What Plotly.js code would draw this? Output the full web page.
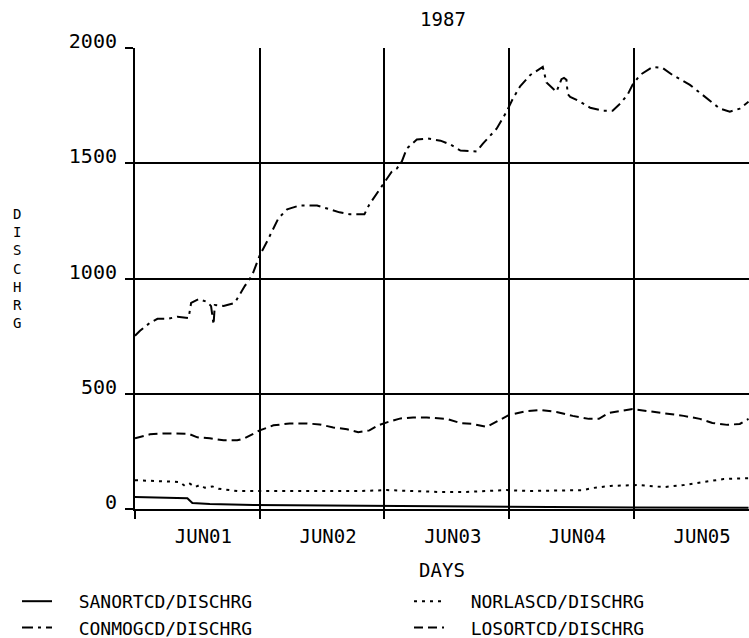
<!DOCTYPE html>
<html>
<head>
<meta charset="utf-8">
<script src="https://cdn.plot.ly/plotly-3.0.1.min.js"></script>
<style>html,body{margin:0;padding:0;background:#fff;}#chart{width:749px;height:638px;}</style>
</head>
<body>
<div id="chart"></div>
<script>
// ---- data (x in days since JUN01 00:00) ----
const dayLabels = ['JUN01', 'JUN02', 'JUN03', 'JUN04', 'JUN05'];
const labelDays = [0.5, 1.5, 2.5, 3.5, 4.5];
const dayStarts = [0, 1, 2, 3, 4];
const yTicks = [0, 500, 1000, 1500, 2000];
const chartTitle = '1987';
const xTitle = 'DAYS';
const yTitle = 'DISCHRG';
const seriesNames = ['SANORTCD/DISCHRG', 'NORLASCD/DISCHRG', 'CONMOGCD/DISCHRG', 'LOSORTCD/DISCHRG'];

const sanDays = [0.00, 0.20, 0.42, 0.46, 0.60, 0.95, 1.50, 2.00, 3.00, 4.00, 4.92];
const sanValues = [52, 50, 47, 26, 22, 17, 15, 12, 9, 6, 5];

const norDays = [0.00, 0.20, 0.36, 0.40, 0.44, 0.48, 0.52, 0.56, 0.62, 0.67, 0.82, 1.00, 1.22, 1.50, 1.80, 2.02, 2.30, 2.43, 2.65, 2.98, 3.16, 3.59, 3.67, 3.81, 4.03, 4.24, 4.40, 4.56, 4.72, 4.92];
const norValues = [125, 121, 117, 100, 110, 95, 104, 92, 98, 88, 78, 78, 78, 76, 78, 82, 76, 74, 74, 82, 78, 82, 91, 100, 104, 95, 104, 117, 130, 134];

const conDays = [0.00, 0.04, 0.12, 0.18, 0.26, 0.34, 0.43, 0.45, 0.51, 0.58, 0.61, 0.63, 0.64, 0.71, 0.80, 0.88, 0.94, 1.00, 1.06, 1.11, 1.15, 1.22, 1.32, 1.46, 1.56, 1.64, 1.72, 1.84, 1.88, 1.94, 2.00, 2.06, 2.10, 2.14, 2.18, 2.26, 2.35, 2.45, 2.53, 2.61, 2.74, 2.79, 2.90, 2.98, 3.03, 3.09, 3.17, 3.27, 3.30, 3.35, 3.38, 3.42, 3.44, 3.46, 3.47, 3.49, 3.57, 3.65, 3.75, 3.83, 3.89, 3.95, 3.99, 4.05, 4.15, 4.23, 4.31, 4.45, 4.59, 4.69, 4.77, 4.85, 4.92];
const conValues = [752, 773, 808, 825, 825, 834, 828, 894, 911, 898, 880, 800, 885, 881, 894, 967, 1015, 1100, 1162, 1218, 1261, 1300, 1317, 1317, 1300, 1287, 1279, 1279, 1322, 1369, 1421, 1464, 1477, 1508, 1564, 1603, 1607, 1598, 1581, 1555, 1551, 1585, 1650, 1724, 1780, 1835, 1883, 1918, 1850, 1823, 1810, 1865, 1870, 1862, 1800, 1788, 1767, 1741, 1728, 1728, 1758, 1797, 1840, 1883, 1918, 1914, 1883, 1840, 1780, 1737, 1724, 1737, 1767];

const losDays = [0.00, 0.12, 0.24, 0.36, 0.43, 0.50, 0.60, 0.71, 0.82, 0.88, 0.95, 1.00, 1.11, 1.24, 1.38, 1.48, 1.59, 1.70, 1.79, 1.88, 1.95, 2.02, 2.13, 2.23, 2.34, 2.43, 2.50, 2.61, 2.71, 2.82, 2.90, 3.00, 3.14, 3.25, 3.38, 3.51, 3.64, 3.72, 3.80, 3.88, 3.99, 4.11, 4.24, 4.40, 4.53, 4.63, 4.75, 4.85, 4.92];
const losValues = [307, 324, 328, 328, 326, 311, 307, 298, 298, 307, 328, 341, 363, 371, 371, 367, 354, 346, 333, 341, 363, 376, 393, 397, 397, 393, 391, 373, 369, 356, 378, 408, 425, 430, 421, 404, 391, 391, 417, 425, 434, 425, 417, 404, 391, 373, 365, 369, 391];

// ---- geometry / style ----
const W = 749, H = 638;
const M = {l: 135, r: 0, t: 48, b: 129};
const FONT = 'DejaVu Sans Mono, monospace';
const NB = '\u00a0\u00a0';

function trace(name, x, y, dash, legendId) {
  return {type: 'scatter', mode: 'lines', name: NB + name, x: x, y: y, legend: legendId,
          line: {color: '#000', width: 2, dash: dash}, hoverinfo: 'skip'};
}
const data = [
  trace(seriesNames[0], sanDays, sanValues, 'solid', 'legend'),
  trace(seriesNames[2], conDays, conValues, '11px,5px,3px,5px', 'legend'),
  trace(seriesNames[1], norDays, norValues, '3px,5px', 'legend2'),
  trace(seriesNames[3], losDays, losValues, '9px,5px', 'legend2')
];

const plotH = H - M.t - M.b, plotW = W - M.l - M.r;
const annotations = [{
  text: yTitle.split('').join('<br>'), showarrow: false, xref: 'paper', yref: 'paper',
  x: (17 - M.l) / plotW, y: (H - M.b - 268) / plotH,
  xanchor: 'center', yanchor: 'middle', align: 'center',
  font: {family: FONT, size: 14, color: '#000'}
}];

function legendBox(xpx) {
  return {orientation: 'v', xref: 'container', yref: 'container', x: xpx / W, y: 1 - 583 / H,
          xanchor: 'left', yanchor: 'top', traceorder: 'normal',
          font: {family: FONT, size: 18, color: '#000'}, bgcolor: 'rgba(0,0,0,0)', borderwidth: 0,
          tracegroupgap: 0, itemclick: false, itemdoubleclick: false};
}

const layout = {
  width: W, height: H,
  margin: {l: M.l, r: M.r, t: M.t, b: M.b, pad: 0, autoexpand: false},
  paper_bgcolor: '#fff', plot_bgcolor: '#fff',
  font: {family: FONT, color: '#000', size: 19},
  title: {text: chartTitle, xref: 'container', yref: 'container', x: 443 / W, y: 1 - 19 / H,
          xanchor: 'center', yanchor: 'middle', font: {family: FONT, size: 19, color: '#000'}},
  showlegend: true,
  legend: legendBox(17),
  legend2: legendBox(409),
  xaxis: {
    range: [0, (W - M.l) / 124.7], autorange: false, fixedrange: true,
    tickmode: 'array', tickvals: labelDays, ticktext: dayLabels, ticks: '', tickangle: 0,
    ticklabelshift: 6, ticklabelstandoff: 9,
    tickfont: {family: FONT, size: 19, color: '#000'},
    showgrid: false, zeroline: false, showline: true, linecolor: '#000', linewidth: 2,
    minor: {tickmode: 'array', tickvals: dayStarts, ticks: 'outside', ticklen: 8, tickwidth: 2,
            tickcolor: '#000', showgrid: true, gridcolor: '#000', gridwidth: 2},
    title: {text: xTitle, standoff: 18, font: {family: FONT, size: 19, color: '#000'}},
    automargin: false
  },
  yaxis: {
    range: [0, 2000], autorange: false, fixedrange: true,
    tickmode: 'array', tickvals: yTicks, ticks: 'outside', ticklen: 8, tickwidth: 2, tickcolor: '#000',
    ticklabelstandoff: 4, ticklabelshift: -7,
    tickfont: {family: FONT, size: 20, color: '#000'},
    showgrid: true, gridcolor: '#000', gridwidth: 2,
    zeroline: false, showline: true, linecolor: '#000', linewidth: 2,
    automargin: false
  },
  annotations: annotations
};

Plotly.newPlot('chart', data, layout, {staticPlot: true, displayModeBar: false});
</script>
</body>
</html>
